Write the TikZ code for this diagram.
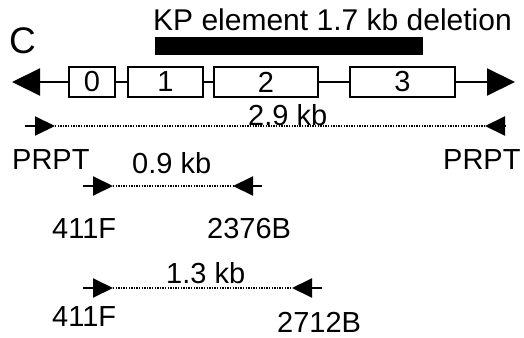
\documentclass[tikz,border=0pt]{standalone}
\usepackage{fontspec}
\setmainfont{Liberation Sans}
\usetikzlibrary{arrows.meta}
\begin{document}
\begin{tikzpicture}[x=1pt,y=-1pt,
  lbl/.style={anchor=base west,inner sep=0pt,font=\fontsize{29}{30}\selectfont},
  exon/.style={draw,line width=2pt,fill=white,minimum height=30pt,inner sep=0pt,font=\fontsize{29}{30}\selectfont},
  gene/.style={line width=2pt},
  bighead/.style={-{Triangle[length=28pt,width=27pt]}},
  primer/.style={line width=2pt,-{Triangle[length=20pt,width=19pt]}},
  prod/.style={line width=1.8pt,dash pattern=on 1.4pt off 1.2pt}]
\useasboundingbox (0,0) rectangle (524,337);

% panel letter and deletion
\node[anchor=base west,inner sep=0pt,font=\fontsize{37}{38}\selectfont] (letter) at (9,53) {C};
\node[anchor=base west,inner sep=0pt,font=\fontsize{30}{31}\selectfont] (kp) at (153,31) {KP element 1.7 kb deletion};
\node[fill=black,minimum width=268pt,minimum height=18pt,inner sep=0pt] (bar) at (289,46) {};

% gene
\coordinate (ltip) at (12,82);
\coordinate (rtip) at (515,82);
\node[exon,minimum width=46pt] (e0) at (92,82) {0};
\node[exon,minimum width=75pt] (e1) at (165.5,82) {1};
\node[exon,minimum width=104pt] (e2) at (266,82) {2};
\node[exon,minimum width=105pt] (e3) at (402.5,82) {3};
\draw[gene,bighead] (e0.west) -- (ltip);
\draw[gene] (e0.east) -- (e1.west);
\draw[gene] (e1.east) -- (e2.west);
\draw[gene] (e2.east) -- (e3.west);
\draw[gene,bighead] (e3.east) -- (rtip);

% PRPT product
\coordinate (a1s) at (25,126);  \coordinate (a1t) at (55,126);
\coordinate (b1t) at (485,126); \coordinate (b1s) at (505,126);
\draw[primer] (a1s) -- (a1t);
\draw[primer] (b1s) -- (b1t);
\draw[prod] (a1t) -- (b1t);
\node[lbl] (l29) at (248,125) {2.9 kb};
\node[lbl] (prptl) at (12,169) {PRPT};
\node[lbl] (prptr) at (443,169) {PRPT};

% 411F / 2376B product
\coordinate (a2s) at (83,186);  \coordinate (a2t) at (113,186);
\coordinate (b2t) at (233,186); \coordinate (b2s) at (262,186);
\draw[primer] (a2s) -- (a2t);
\draw[primer] (b2s) -- (b2t);
\draw[prod] (a2t) -- (b2t);
\node[lbl] (l09) at (132,173) {0.9 kb};
\node[lbl] (f1) at (52,238) {411F};
\node[lbl] (r1) at (207,238) {2376B};

% 411F / 2712B product
\coordinate (a3s) at (83,288);  \coordinate (a3t) at (113,288);
\coordinate (b3t) at (292,288); \coordinate (b3s) at (322,288);
\draw[primer] (a3s) -- (a3t);
\draw[primer] (b3s) -- (b3t);
\draw[prod] (a3t) -- (b3t);
\node[lbl] (l13) at (166,283) {1.3 kb};
\node[lbl] (f2) at (52,326) {411F};
\node[lbl] (r2) at (277,332) {2712B};
\end{tikzpicture}
\end{document}
